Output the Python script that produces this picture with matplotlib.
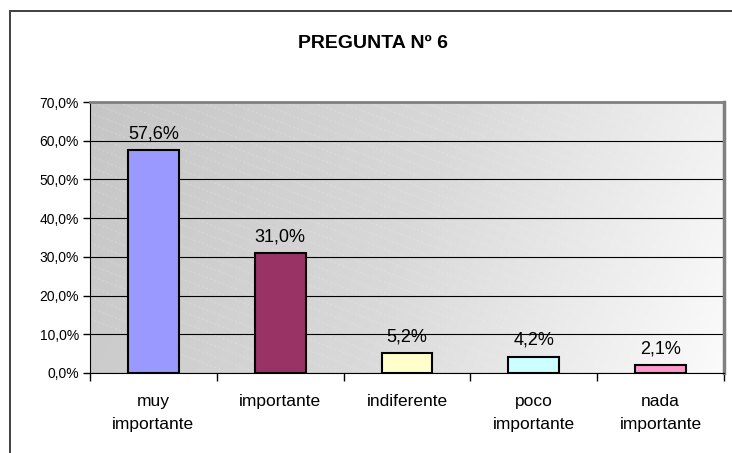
import numpy as np
import matplotlib.pyplot as plt
from matplotlib.patches import Rectangle
from matplotlib.collections import LineCollection
from matplotlib.colors import LinearSegmentedColormap
from matplotlib.ticker import FuncFormatter, MultipleLocator

plt.rcParams['font.family'] = ['Liberation Sans', 'DejaVu Sans']

# datos de la pregunta 6
categorias = ["muy\nimportante", "importante", "indiferente", "poco\nimportante", "nada\nimportante"]
porcentajes = [57.6, 31.0, 5.2, 4.2, 2.1]
colores = ["#9999FF", "#993366", "#FFFFCC", "#CCFFFF", "#FF99CC"]
titulo = "PREGUNTA Nº 6"

fig = plt.figure(figsize=(7.32, 4.53), dpi=100)
fig.patch.set_facecolor("white")

# marco exterior del grafico
W, H = 732, 453
fig.patches.append(Rectangle((10 / W, -0.1), 1.2, 1 - 11 / H + 0.1,
                             transform=fig.transFigure, fill=False,
                             edgecolor="#404040", linewidth=1.4))

ax = fig.add_axes([90 / W, 1 - 373 / H, (724 - 90) / W, (373 - 102) / H])

x = np.arange(len(categorias))

# fondo degradado del area de trazado (mas claro hacia la derecha y arriba)
gx, gy = np.meshgrid(np.linspace(0, 1, 300), np.linspace(0, 1, 200))
grad = 0.85 * gx + 0.15 * gy
fondo = LinearSegmentedColormap.from_list("fondo", ["#c6c6c6", "#d9d9d9", "#fbfbfb"])
ax.imshow(grad, cmap=fondo, aspect="auto", origin="upper",
          extent=[0, 1, 0, 1], transform=ax.transAxes, zorder=0)

# rayado diagonal suave
segs = []
for c in np.arange(-0.8, 1.0, 0.04):
    segs.append([(0, 1 + c), (1, 1 + c - 0.39 * 634 / 271)])
rayas = LineCollection(segs, colors="white", linewidths=0.8, alpha=0.18,
                       linestyles=(0, (2, 2)), transform=ax.transAxes, zorder=0.5)
ax.add_collection(rayas)

ax.bar(x, porcentajes, width=0.4, color=colores, edgecolor="black",
       linewidth=1.5, zorder=3)

for xi, v in zip(x, porcentajes):
    ax.text(xi, v + 2.0, f"{v:.1f}%".replace(".", ","), ha="center",
            va="bottom", fontsize=13, zorder=4)

ax.set_xlim(-0.5, len(categorias) - 0.5)
ax.set_ylim(0, 70)
ax.yaxis.set_major_locator(MultipleLocator(10))
ax.yaxis.set_major_formatter(FuncFormatter(lambda v, p: f"{v:.1f}%".replace(".", ",")))
ax.grid(axis="y", color="black", linewidth=0.8, zorder=1)
ax.set_axisbelow(True)

# marcas del eje x entre categorias
ax.set_xticks(np.arange(-0.5, len(categorias)), minor=False)
ax.set_xticklabels([])
ax.set_xticks(x, minor=True)
ax.set_xticklabels(categorias, minor=True, fontsize=12.5, linespacing=1.65, va="top")
ax.tick_params(axis="x", which="minor", length=0, pad=15)
ax.tick_params(axis="x", which="major", length=6, color="black", width=1)
ax.tick_params(axis="y", length=5, width=1, labelsize=10, pad=3)

ax.spines["left"].set_color("black")
ax.spines["bottom"].set_color("black")
ax.spines["top"].set_color("#808080")
ax.spines["top"].set_linewidth(2)
ax.spines["right"].set_color("#808080")
ax.spines["right"].set_linewidth(2.5)

fig.text(373 / W, 1 - 44 / H, titulo, ha="center", va="center",
         fontsize=14, fontweight="bold")

fig.savefig("out.png", dpi=100)
